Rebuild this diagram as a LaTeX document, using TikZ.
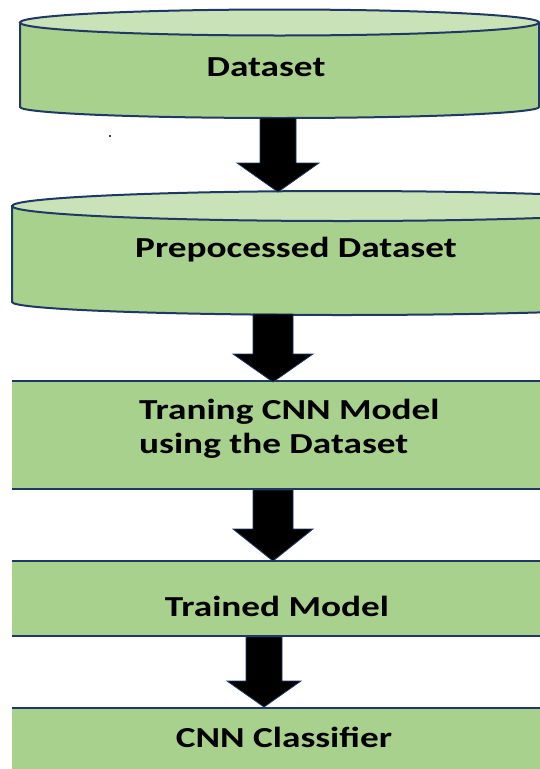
\documentclass[tikz,border=0pt]{standalone}
\usepackage{fontspec}
\setmainfont{Carlito}
\usetikzlibrary{calc}
\definecolor{boxgreen}{HTML}{A9D18E}
\definecolor{topgreen}{HTML}{C9E2B8}
\definecolor{navy}{HTML}{1F3864}
\tikzset{
  boxfill/.style={fill=boxgreen},
  edgeline/.style={draw=navy, line width=2pt},
  label/.style={font=\fontsize{29}{34}\selectfont\bfseries, inner sep=0pt, anchor=base},
  arrowfill/.style={fill=black, draw=navy, line width=0.8pt, line join=miter}
}
\newcommand\blockarr[5]{%
  \path[arrowfill] let \p1=(#1), \p2=(#2) in
    (\x1-#3,\y1) -- (\x1-#3,\y2+#5) -- (\x1-#4,\y2+#5) -- (\x2,\y2) --
    (\x1+#4,\y2+#5) -- (\x1+#3,\y2+#5) -- (\x1+#3,\y1) -- cycle;}
\newcommand\hs[1]{\scalebox{1.285}[1]{#1}}
\begin{document}
\begin{tikzpicture}[x=1pt,y=-1pt]
\useasboundingbox (0,0) rectangle (540,769);
\clip (0,0) rectangle (540,769);
% cylinder 1
\path[boxfill, edgeline] (20,22.5) -- (20,107)
  arc[start angle=180, end angle=0, x radius=259.5, y radius=11] -- (539,22.5) -- cycle;
\path[fill=topgreen, edgeline] (279.5,22.5) ellipse[x radius=259.5, y radius=13];
\node[label] (ds) at (266,76) {\hs{Dataset}};
\fill[black] (110,136) circle[radius=1.2pt];
% cylinder 2
\path[boxfill, edgeline] (12,206) -- (12,302)
  arc[start angle=180, end angle=0, x radius=330, y radius=13] -- (672,206) -- cycle;
\path[fill=topgreen, edgeline] (342,206) ellipse[x radius=330, y radius=15];
\node[label] (pd) at (296,257) {\hs{Prepocessed Dataset}};
% box 3
\fill[boxfill] (12,381) rectangle (560,489);
\draw[edgeline] (12,381) -- (560,381) (12,489) -- (560,489);
\node[label, anchor=base west] (tr) at (139,419)
  {\hs{\begin{tabular}[t]{@{}l@{}}Traning CNN Model\\using the Dataset\end{tabular}}};
% box 4
\fill[boxfill] (12,561) rectangle (560,636);
\draw[edgeline] (12,561) -- (560,561) (12,636) -- (560,636);
\node[label] (tm) at (277,616) {\hs{Trained Model}};
% box 5
\fill[boxfill] (12,708) rectangle (560,775);
\draw[edgeline] (12,708) -- (560,708);
\node[label] (cc) at (284,747) {\hs{CNN Classifier}};
% arrow end points
\coordinate (a1s) at (278,118);
\coordinate (a1t) at (278,192);
\coordinate (a2s) at (273,314);
\coordinate (a2t) at (273,382);
\coordinate (a3s) at (273,490);
\coordinate (a3t) at (273,561);
\coordinate (a4s) at (264,637);
\coordinate (a4t) at (264,707);
\blockarr{a1s}{a1t}{18pt}{41pt}{29pt}
\blockarr{a2s}{a2t}{20pt}{40pt}{28pt}
\blockarr{a3s}{a3t}{20pt}{40pt}{32pt}
\blockarr{a4s}{a4t}{18pt}{37pt}{26pt}
\end{tikzpicture}
\end{document}
